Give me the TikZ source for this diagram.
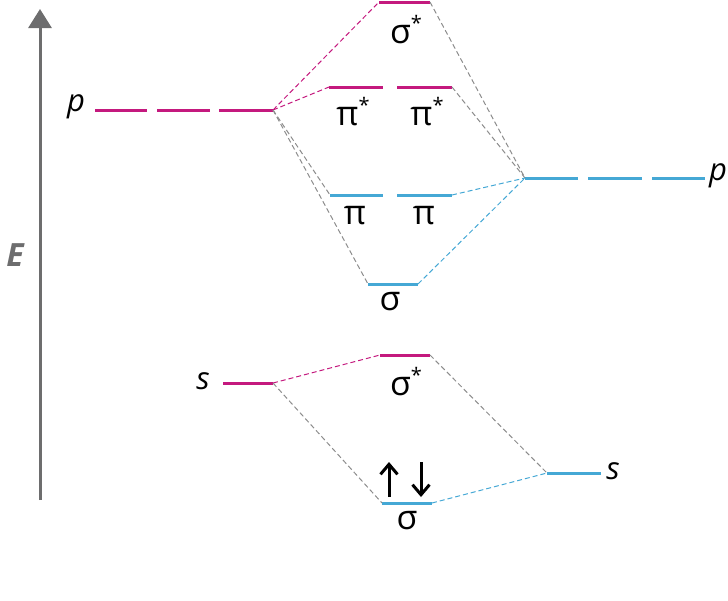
\documentclass[tikz,border=0pt]{standalone}
\usepackage{fontspec}
\setmainfont{Open Sans}
\usetikzlibrary{arrows.meta}
\definecolor{mag}{HTML}{C4197E}
\definecolor{blu}{HTML}{45A8D5}
\definecolor{gry}{HTML}{8C8C8C}
\definecolor{axis}{HTML}{6D6D6E}
\newcommand{\stl}{\raisebox{13pt}{\fontsize{20}{20}\selectfont*}}
\tikzset{
  magl/.style={draw=mag,line width=3pt},
  blul/.style={draw=blu,line width=3pt},
  mcon/.style={draw=mag,line width=1pt,dash pattern=on 5pt off 3pt},
  bcon/.style={draw=blu,line width=1pt,dash pattern=on 5pt off 3pt},
  gcon/.style={draw=gry,line width=1pt,dash pattern=on 5pt off 3pt},
  lbl/.style={inner sep=0pt,font=\fontsize{34}{36}\selectfont},
  ilbl/.style={inner sep=0pt,font=\fontsize{31}{33}\selectfont\itshape},
  spin/.style={draw=black,line width=3pt,-{Straight Barb[length=10pt,width=17pt,line width=3pt]}}
}
\begin{document}
\begin{tikzpicture}[x=1pt,y=-1pt]
\useasboundingbox (0,0) rectangle (728,600);
% axis
\coordinate (ab) at (40,500);
\coordinate (at) at (40,9);
\draw[axis,line width=3pt,-{Triangle[length=19pt,width=23pt]}] (ab) -- (at);
\node[inner sep=0pt,text=axis,font=\fontsize{32}{34}\selectfont\bfseries\itshape] (E) at (15,255) {E};
% left p
\coordinate (lp1a) at (95,110); \coordinate (lp1b) at (147,110);
\coordinate (lp2a) at (157,110); \coordinate (lp2b) at (210,110);
\coordinate (lp3a) at (219,110); \coordinate (lp3b) at (273,110);
\draw[magl] (lp1a)--(lp1b) (lp2a)--(lp2b) (lp3a)--(lp3b);
\node[ilbl] (lpl) at (76,107) {p};
% sigma* top
\coordinate (ssa) at (379,2); \coordinate (ssb) at (430,2);
\draw[magl] (ssa)--(ssb);
\node[lbl] (ssl) at (406,30) {σ\stl};
% pi*
\coordinate (pia) at (329,87); \coordinate (pib) at (383,87);
\coordinate (pic) at (397,87); \coordinate (pid) at (452,87);
\draw[magl] (pia)--(pib) (pic)--(pid);
\node[lbl] (pil1) at (353,112) {π\stl};
\node[lbl] (pil2) at (427,112) {π\stl};
% pi
\coordinate (pba) at (330,195); \coordinate (pbb) at (383,195);
\coordinate (pbc) at (397,195); \coordinate (pbd) at (452,195);
\draw[blul] (pba)--(pbb) (pbc)--(pbd);
\node[lbl] (pbl1) at (355,216) {π};
\node[lbl] (pbl2) at (424,216) {π};
% sigma
\coordinate (sga) at (368,284); \coordinate (sgb) at (418,284);
\draw[blul] (sga)--(sgb);
\node[lbl] (sgl) at (390,302) {σ};
% right p
\coordinate (rp1a) at (525,178); \coordinate (rp1b) at (578,178);
\coordinate (rp2a) at (588,178); \coordinate (rp2b) at (642,178);
\coordinate (rp3a) at (652,178); \coordinate (rp3b) at (705,178);
\draw[blul] (rp1a)--(rp1b) (rp2a)--(rp2b) (rp3a)--(rp3b);
\node[ilbl] (rpl) at (718,176) {p};
% left s
\coordinate (lsa) at (223,383); \coordinate (lsb) at (273,383);
\draw[magl] (lsa)--(lsb);
\node[ilbl] (lsl) at (203,381) {s};
% sigma* lower
\coordinate (s2a) at (380,355); \coordinate (s2b) at (430,355);
\draw[magl] (s2a)--(s2b);
\node[lbl] (s2l) at (406,382) {σ\stl};
% sigma lower
\coordinate (s3a) at (382,503); \coordinate (s3b) at (432,503);
\draw[blul] (s3a)--(s3b);
\node[lbl] (s3l) at (407,521) {σ};
% right s
\coordinate (rsa) at (547,473); \coordinate (rsb) at (601,473);
\draw[blul] (rsa)--(rsb);
\node[ilbl] (rsl) at (613,471) {s};
% spins
\coordinate (u1) at (389,497); \coordinate (u2) at (389,462);
\coordinate (d1) at (421,462); \coordinate (d2) at (421,497);
\draw[spin] (u1)--(u2);
\draw[spin] (d1)--(d2);
% connectors upper
\draw[mcon] (lp3b)--(ssa);
\draw[mcon] (lp3b)--(pia);
\draw[gcon] (lp3b)--(pba);
\draw[gcon] (lp3b)--(sga);
\draw[gcon] (ssb)--(rp1a);
\draw[gcon] (pid)--(rp1a);
\draw[bcon] (pbd)--(rp1a);
\draw[bcon] (sgb)--(rp1a);
% connectors lower
\draw[mcon] (lsb)--(s2a);
\draw[gcon] (lsb)--(s3a);
\draw[gcon] (s2b)--(rsa);
\draw[bcon] (s3b)--(rsa);
\end{tikzpicture}
\end{document}
